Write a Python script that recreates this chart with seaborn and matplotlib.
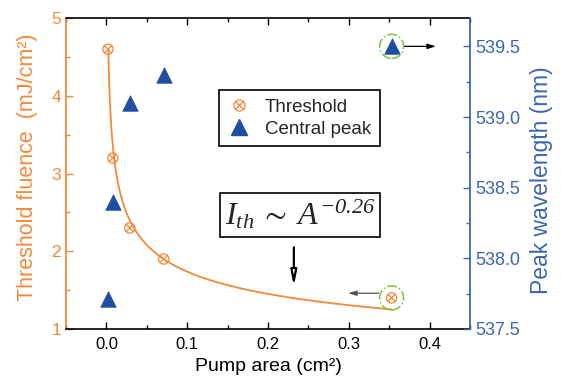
import numpy as np
import matplotlib
matplotlib.use('Agg')
import matplotlib.pyplot as plt
from matplotlib.path import Path
from matplotlib.lines import Line2D
from matplotlib.ticker import MultipleLocator
import seaborn as sns

# values
area = [0.002, 0.008, 0.029, 0.071, 0.353]          # pump area (cm^2)
threshold = [4.6, 3.2, 2.3, 1.9, 1.4]               # threshold fluence (mJ/cm^2)
peak = [537.71, 538.40, 539.10, 539.30, 539.50]     # central peak wavelength (nm)

# power-law fit shown in the figure: I_th ~ A^-0.26
fit_amp = 0.955
fit_exp = -0.26
fit_start, fit_end = 0.0024, 0.353

orange = '#F5893A'
blue_mark = '#1F4E9F'
blue_axis = '#3D66B0'
green = '#7CC142'

sns.set_style('ticks')
plt.rcParams['font.family'] = ['Liberation Sans', 'DejaVu Sans']
# italic serif math (digits of the exponent are italic in the original)
plt.rcParams['mathtext.fontset'] = 'custom'
plt.rcParams['mathtext.rm'] = 'Liberation Serif:italic'
plt.rcParams['mathtext.it'] = 'Liberation Serif:italic'
plt.rcParams['mathtext.fallback'] = 'stix'

# circle with a cross inside
c = Path.unit_circle()
s = 0.707
cross = Path([(-s, -s), (s, s), (-s, s), (s, -s)],
             [Path.MOVETO, Path.LINETO, Path.MOVETO, Path.LINETO])
otimes = Path.make_compound_path(c, cross)

fig = plt.figure(figsize=(5.62, 3.85), dpi=100)
ax = fig.add_axes([0.1174, 0.1455, 0.7189, 0.8075])
ax2 = ax.twinx()

fit_x = np.geomspace(fit_start, fit_end, 300)
fit_y = fit_amp * fit_x ** fit_exp
sns.lineplot(x=fit_x, y=fit_y, ax=ax, color=orange, lw=1.3, sort=False)
sns.scatterplot(x=area, y=threshold, ax=ax, marker=otimes, s=55,
                facecolors='none', edgecolor=orange, linewidth=0.9, zorder=3)
sns.scatterplot(x=area, y=peak, ax=ax2, marker='^', s=125,
                color=blue_mark, edgecolor=blue_mark, linewidth=0.5, zorder=3)

# dash-dot circles around the last points
ax.scatter([area[-1]], [threshold[-1]], s=300, facecolors='none',
           edgecolors=green, linestyles='-.', linewidths=1.1, zorder=4)
ax2.scatter([area[-1]], [peak[-1]], s=300, facecolors='none',
            edgecolors=green, linestyles='-.', linewidths=1.1, zorder=4)

# arrows pointing to the axis each point belongs to
ax2.annotate('', xy=(0.408, peak[-1]), xytext=(0.368, peak[-1]),
             arrowprops=dict(arrowstyle='-|>,head_width=0.15,head_length=0.5',
                             color='black', lw=0.9, shrinkA=0, shrinkB=0))
ax.annotate('', xy=(0.299, 1.46), xytext=(0.337, 1.46),
            arrowprops=dict(arrowstyle='-|>,head_width=0.15,head_length=0.5',
                            color='#555555', lw=0.9, shrinkA=0, shrinkB=0))
ax.annotate('', xy=(0.232, 1.55), xytext=(0.232, 2.05),
            arrowprops=dict(arrowstyle='-|>,head_width=0.18,head_length=0.9',
                            fc='white', ec='black', lw=1.6, shrinkA=0, shrinkB=0))

ax.text(0.58, 0.367, r'$I_{th}\;\sim\;A^{-0.26}$', transform=ax.transAxes,
        ha='center', va='center', fontsize=23, zorder=5,
        bbox=dict(boxstyle='square,pad=0.15', fc='white', ec='black', lw=1.2))

ax.set_xlim(-0.05, 0.45)
ax.set_ylim(1, 5)
ax2.set_ylim(537.5, 539.7)
ax.xaxis.set_major_locator(MultipleLocator(0.1))
ax.xaxis.set_minor_locator(MultipleLocator(0.05))
ax.yaxis.set_major_locator(MultipleLocator(1))
ax.yaxis.set_minor_locator(MultipleLocator(0.5))
ax2.yaxis.set_minor_locator(MultipleLocator(0.25))
ax2.set_yticks([537.5, 538.0, 538.5, 539.0, 539.5])
ax2.set_yticklabels(['537.5', '538.0', '538.5', '539.0', '539.5'])

ax.tick_params(axis='x', which='both', direction='in', top=True, bottom=True,
               labelsize=12, colors='black', pad=6)
ax.tick_params(axis='x', which='major', length=5, width=1)
ax.tick_params(axis='x', which='minor', length=3, width=1)
ax.tick_params(axis='y', which='both', direction='in', left=True, right=False,
               labelsize=12.5, colors=orange, width=1)
ax.tick_params(axis='y', which='major', length=5)
ax.tick_params(axis='y', which='minor', length=3)
ax2.tick_params(axis='y', which='both', direction='in', right=True,
                labelsize=13, colors=blue_axis, width=1)
ax2.tick_params(axis='y', which='major', length=5)
ax2.tick_params(axis='y', which='minor', length=3)

for sp in ['top', 'bottom']:
    ax.spines[sp].set_color('black')
    ax.spines[sp].set_linewidth(1.2)
ax.spines['left'].set_color(orange)
ax.spines['left'].set_linewidth(1.3)
ax2.spines['right'].set_color(blue_axis)
ax2.spines['right'].set_linewidth(1.3)
ax2.spines['left'].set_visible(False)
ax2.spines['top'].set_visible(False)
ax2.spines['bottom'].set_visible(False)
ax.spines['right'].set_visible(False)

ax.set_xlabel('Pump area (cm²)', fontsize=14, color='black', labelpad=4)
ax.set_ylabel('Threshold fluence  (mJ/cm²)', fontsize=15.5, color=orange)
ax2.set_ylabel('Peak wavelength (nm)', fontsize=16.5, color=blue_axis)
ax.yaxis.set_label_coords(-0.07, 0.52)
ax2.yaxis.set_label_coords(1.148, 0.48)

handles = [Line2D([], [], ls='none', marker=otimes, ms=8, mfc='none',
                  mec=orange, mew=0.9),
           Line2D([], [], ls='none', marker='^', ms=11, color=blue_mark)]
leg = ax.legend(handles, ['Threshold', 'Central peak'], loc='upper left',
                bbox_to_anchor=(0.379, 0.768), borderaxespad=0, fontsize=13.5,
                frameon=True, fancybox=False, framealpha=1, edgecolor='black',
                handletextpad=0.8, borderpad=0.45, labelspacing=0.25,
                handlelength=1.2)
leg.get_frame().set_linewidth(1.2)
leg.set_zorder(6)

fig.savefig('out.png', dpi=100)
